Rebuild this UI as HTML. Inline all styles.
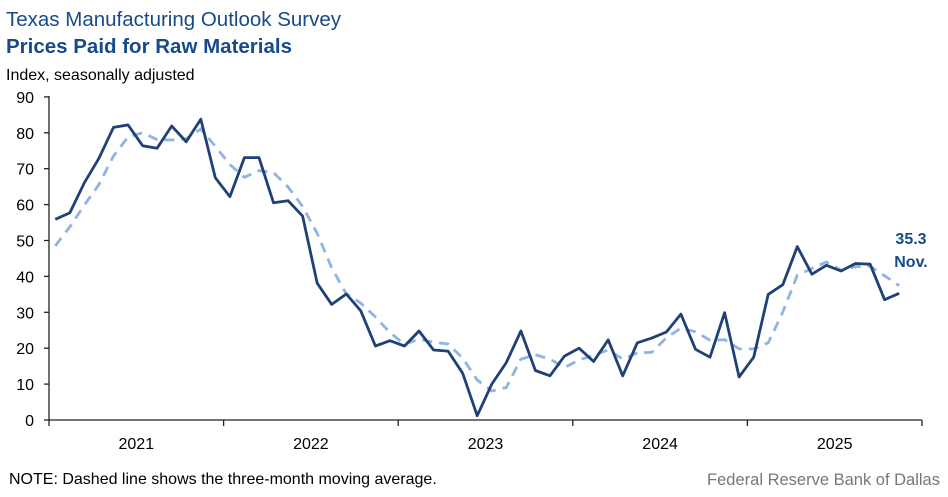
<!DOCTYPE html>
<html><head><meta charset="utf-8"><style>
body{margin:0;background:#fff;width:948px;height:492px;overflow:hidden;font-family:"Liberation Sans",Arial,sans-serif}
</style></head><body>
<svg id="s" width="948" height="492" xmlns="http://www.w3.org/2000/svg" font-family="Liberation Sans, Arial, sans-serif">
<text x="6" y="26" font-size="20.5" fill="#164a8a">Texas Manufacturing Outlook Survey</text>
<text x="6" y="53" font-size="20.5" font-weight="bold" fill="#164a8a">Prices Paid for Raw Materials</text>
<text x="6" y="80" font-size="16" fill="#000">Index, seasonally adjusted</text>
<g id="ax" stroke="#222" stroke-width="1.3" fill="none"></g>
<g id="lab" font-size="16" fill="#000"></g>
<polyline id="ma" fill="none" stroke="#8fb4e3" stroke-width="2.8" stroke-dasharray="10,7"/>
<polyline id="ln" fill="none" stroke="#1f4176" stroke-width="2.8" stroke-linejoin="round"/>
<text x="911" y="244" font-size="16" font-weight="bold" fill="#164a8a" text-anchor="middle">35.3</text>
<text x="911" y="267" font-size="16" font-weight="bold" fill="#164a8a" text-anchor="middle">Nov.</text>
<text x="9" y="484" font-size="16" fill="#000">NOTE: Dashed line shows the three-month  moving average.</text>
<text x="940" y="485" font-size="16.5" fill="#777" text-anchor="end">Federal Reserve Bank of Dallas</text>
</svg>
<script>
var d=[55.9,57.7,66.1,72.9,81.5,82.2,76.4,75.7,81.9,77.5,83.8,67.5,
62.2,73.1,73.1,60.5,61.1,56.8,38.1,32.2,35.1,30.4,20.6,22.1,
20.6,24.8,19.5,19.2,13,1.2,10,16,24.8,13.8,12.3,17.8,
20,16.3,22.3,12.3,21.5,22.8,24.5,29.5,19.7,17.5,29.9,12,
17.5,35,37.7,48.3,40.6,43.1,41.5,43.6,43.4,33.5,35.3];
var pre=[41.8,47.8];var all=pre.concat(d);
function X(i){return 48+(i+0.5)*14.55}function Y(v){return 420-v*3.59}
var p=[],m=[];
for(var i=0;i<d.length;i++){p.push(X(i).toFixed(1)+","+Y(d[i]).toFixed(1));
var a=(all[i]+all[i+1]+all[i+2])/3;m.push(X(i).toFixed(1)+","+Y(a).toFixed(1));}
document.getElementById("ln").setAttribute("points",p.join(" "));
document.getElementById("ma").setAttribute("points",m.join(" "));
var ax="",lb="";
ax+='<line x1="49" y1="96" x2="49" y2="420"/><line x1="49" y1="420" x2="922" y2="420"/>';
for(var v=0;v<=90;v+=10){var y=Y(v);ax+='<line x1="44" y1="'+y+'" x2="49" y2="'+y+'"/>';
lb+='<text x="34" y="'+(y+6)+'" text-anchor="end">'+v+'</text>';}
for(var k=0;k<=5;k++){var x=49+k*174.6;ax+='<line x1="'+x+'" y1="420" x2="'+x+'" y2="426"/>';
if(k<5)lb+='<text x="'+(x+87.3)+'" y="449" text-anchor="middle">'+(2021+k)+'</text>';}
document.getElementById("ax").innerHTML=ax;document.getElementById("lab").innerHTML=lb;
</script>
</body></html>
